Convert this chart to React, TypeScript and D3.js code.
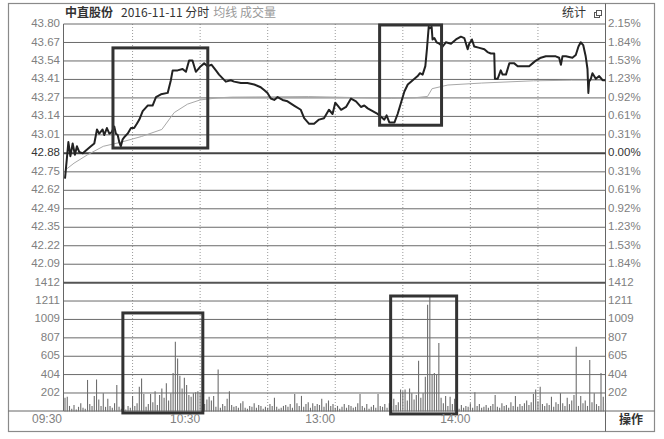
import React from 'react';
import * as d3 from 'd3';

// ---------- data ----------
const prevClose = 42.88;
const priceTop = 43.8;

const priceMinutes = [
  0, 1.5, 2.4, 3.4, 4.4, 5.3, 6.3, 7.9, 9.3, 11.5, 13, 14.2, 15.2, 16.7, 17.4, 18.6, 19.7, 20.7, 21.9, 22.6,
  23.4, 24.1, 24.8, 25.6, 26.6, 27.8, 29.3, 30.7, 31.9, 33, 34.5, 36.7, 38.9, 40.4, 42.6, 45.6, 47, 47.8, 50, 52.2,
  53.7, 55.1, 56.6, 58.1, 60.3, 61.8, 63.3, 65.1, 67, 68.4, 71.4, 73.6, 75.1, 78.1, 81, 84, 86.9, 88.4, 89.9, 91.4,
  92.9, 94.4, 96.6, 98.8, 101.7, 104.7, 106.2, 108.4, 110.6, 112.8, 115, 117.2, 118.8, 120, 121.1, 122.6, 124.8, 127, 129.2, 131.4,
  132.9, 134.4, 136.6, 138.8, 140.3, 141.8, 142.8, 144, 146.3, 147.7, 149.2, 150.7, 152.2, 154.4, 156.6, 157.6, 158.8, 160, 160.7, 161.5,
  162, 162.8, 163.2, 164, 165, 166.2, 167.7, 169.1, 171.4, 173.6, 175.8, 177.3, 178.8, 179.5, 180.7, 181.7, 184, 186.2, 187.6, 189.1,
  190.6, 190.9, 192.1, 193.5, 194.3, 195.8, 197.3, 199.5, 201, 202.4, 206.1, 207.6, 209.1, 211.3, 213.5, 215.7, 217.9, 219.4, 220.2, 220.9,
  222.4, 225.3, 226.8, 228, 229, 230.1, 231.2, 232, 232.4, 232.7, 233.5, 234.2, 235.7, 237.2, 238.7, 240,
];
const priceValues = [
  42.70, 42.96, 42.86, 42.95, 42.87, 42.93, 42.89, 42.88, 42.90, 42.93, 42.95, 43.05, 43.02, 43.05, 43.01, 43.06, 43.02, 43.03, 43.07, 43.02,
  43.01, 42.96, 42.93, 42.98, 43.00, 43.02, 43.06, 43.06, 43.09, 43.12, 43.18, 43.22, 43.22, 43.28, 43.30, 43.31, 43.40, 43.47, 43.47, 43.48,
  43.46, 43.54, 43.54, 43.46, 43.50, 43.52, 43.50, 43.51, 43.47, 43.44, 43.39, 43.40, 43.39, 43.38, 43.38, 43.37, 43.35, 43.33, 43.31, 43.27,
  43.26, 43.28, 43.26, 43.25, 43.22, 43.19, 43.13, 43.09, 43.09, 43.12, 43.13, 43.19, 43.16, 43.24, 43.22, 43.19, 43.21, 43.27, 43.25, 43.21,
  43.22, 43.20, 43.18, 43.16, 43.14, 43.12, 43.15, 43.10, 43.10, 43.16, 43.24, 43.32, 43.37, 43.40, 43.43, 43.45, 43.44, 43.50, 43.62, 43.78,
  43.77, 43.78, 43.69, 43.70, 43.67, 43.66, 43.64, 43.67, 43.66, 43.69, 43.71, 43.70, 43.62, 43.66, 43.69, 43.64, 43.63, 43.62, 43.60, 43.59,
  43.59, 43.41, 43.41, 43.47, 43.44, 43.44, 43.52, 43.52, 43.50, 43.50, 43.50, 43.52, 43.54, 43.56, 43.57, 43.57, 43.57, 43.56, 43.51, 43.57,
  43.57, 43.56, 43.58, 43.64, 43.67, 43.65, 43.57, 43.48, 43.31, 43.39, 43.41, 43.45, 43.41, 43.43, 43.40, 43.40,
];

const avgMinutes = [0, 4, 10, 17, 25, 34, 43, 48.5, 54.4, 60, 68, 74, 108, 120, 145, 155, 161, 163, 170, 185, 208, 225, 240];
const avgValues = [42.76, 42.81, 42.87, 42.93, 42.96, 43.0, 43.05, 43.17, 43.23, 43.26, 43.275, 43.28, 43.284, 43.28, 43.27, 43.275, 43.285, 43.34, 43.366, 43.38, 43.396, 43.4, 43.4];

const volumes = [
  150, 160, 60, 30, 70, 20, 50, 90, 40, 30,
  345, 80, 60, 170, 350, 130, 60, 200, 50, 140,
  60, 40, 90, 290, 50, 30, 70, 20, 60, 40,
  170, 60, 90, 270, 360, 190, 50, 80, 190, 100,
  220, 70, 180, 250, 150, 310, 120, 200, 420, 765,
  580, 390, 250, 370, 290, 180, 160, 200, 210, 220,
  210, 60, 80, 130, 160, 120, 170, 50, 460, 40,
  80, 60, 140, 220, 70, 50, 60, 40, 90, 110,
  40, 30, 60, 50, 90, 40, 70, 60, 30, 50,
  40, 80, 60, 150, 50, 30, 40, 60, 70, 50,
  80, 40, 190, 90, 60, 170, 50, 80, 100, 40,
  90, 60, 80, 70, 140, 50, 90, 120, 60, 80,
  40, 60, 30, 50, 80, 40, 70, 60, 40, 50,
  90, 190, 60, 40, 80, 30, 50, 70, 40, 190,
  60, 50, 80, 40, 90, 60, 140, 70, 100, 240,
  220, 240, 120, 250, 200, 130, 180, 555, 150, 200,
  380, 1170, 1260, 400, 420, 400, 750, 150, 90, 170,
  60, 160, 80, 140, 50, 30, 70, 40, 60, 50,
  90, 40, 210, 60, 80, 40, 50, 70, 40, 60,
  80, 180, 50, 40, 90, 60, 70, 40, 100, 60,
  170, 50, 80, 60, 90, 120, 70, 100, 190, 240,
  110, 270, 80, 60, 90, 70, 160, 50, 100, 80,
  200, 90, 60, 150, 80, 120, 180, 710, 60, 170,
  90, 120, 60, 565, 100, 200, 80, 60, 420, 160,
  90,
];

const priceTickLabels = ['43.80', '43.67', '43.54', '43.41', '43.27', '43.14', '43.01', '42.88', '42.75', '42.62', '42.49', '42.35', '42.22', '42.09'];
const pctTickLabels = ['2.15%', '1.84%', '1.53%', '1.23%', '0.92%', '0.61%', '0.31%', '0.00%', '0.31%', '0.61%', '0.92%', '1.23%', '1.53%', '1.84%'];
const volTicks = [1412, 1211, 1009, 807, 605, 404, 202];
const timeTickMinutes = [0, 60, 120, 180];
const timeTickLabels = ['09:30', '10:30', '13:00', '14:00'];
const gridMinutes = [30, 60, 90, 120, 150, 180, 210];

// annotation boxes in data units
const priceBoxMinutes = [[21.3, 63.4], [139.7, 167.2]];
const priceBoxValues = [[43.63, 42.918], [43.793, 43.08]];
const volBoxMinutes = [[25.7, 61.2], [144.6, 173.9]];
const volBoxValues = [[1080, -17], [1266, -28]];

// ---------- layout ----------
const W = 664, H = 439;
const plotL = 63.5, plotR = 605.5;
const x = d3.scaleLinear().domain([0, 240]).range([65, 605.5]);
const priceStep = (priceTop - prevClose) / 7;
const yP = d3.scaleLinear().domain([prevClose - 7 * priceStep, priceTop]).range([282.7, 24]);
const yV = d3.scaleLinear().domain([0, 1412]).range([411.4, 282.7]);

const NUM_FONT = '"Liberation Sans", Arial, sans-serif';
const CJK_FONT = '"Noto Sans CJK SC", "Liberation Sans", sans-serif';

export default function App() {
  const priceLine = d3.line<number>().x((_, i) => x(priceMinutes[i])).y((d) => yP(d));
  const avgLine = d3.line<number>().x((_, i) => x(avgMinutes[i])).y((d) => yP(d));
  const gridVals = priceTickLabels.map((_, i) => priceTop - i * priceStep);

  return (
    <svg width={W} height={H} style={{ position: 'absolute', left: 0, top: 0, background: '#fff' }}>
      <rect x={0} y={0} width={W} height={H} fill="#fff" />
      {/* outer frame */}
      <rect x={8.5} y={3.5} width={646} height={428} fill="none" stroke="#8a8a8a" strokeWidth={1.2} />
      <line x1={plotR} x2={plotR} y1={3.5} y2={431.5} stroke="#666" strokeWidth={1} />
      <line x1={plotL} x2={plotL} y1={24} y2={411} stroke="#666" strokeWidth={1} />
      <line x1={8.5} x2={654.5} y1={411} y2={411} stroke="#666" strokeWidth={1} />

      {/* vertical dotted grid */}
      {gridMinutes.map((m) => (
        <line key={'vg' + m} x1={x(m)} x2={x(m)} y1={24} y2={411} stroke="#9a9a9a" strokeWidth={1} strokeDasharray="1,2" />
      ))}

      {/* price horizontal grid + labels */}
      {gridVals.map((v, i) => {
        const isBase = i === 7;
        return (
          <g key={'pg' + i}>
            <line x1={plotL} x2={plotR} y1={yP(v)} y2={yP(v)} stroke={isBase ? '#444' : '#6a6a6a'} strokeWidth={isBase ? 2 : 1} />
            <text x={60} y={yP(v)} textAnchor="end" dominantBaseline="middle" fontFamily={NUM_FONT} fontSize={11.5} fill={isBase ? '#333' : '#808080'}>
              {priceTickLabels[i]}
            </text>
            <text x={608} y={yP(v)} textAnchor="start" dominantBaseline="middle" fontFamily={NUM_FONT} fontSize={11.5} fill={isBase ? '#333' : '#808080'}>
              {pctTickLabels[i]}
            </text>
          </g>
        );
      })}

      {/* volume grid + labels */}
      {volTicks.map((v, i) => (
        <g key={'vt' + v}>
          <line x1={plotL} x2={plotR} y1={yV(v)} y2={yV(v)} stroke={i === 0 ? '#555' : '#6a6a6a'} strokeWidth={i === 0 ? 2 : 1} />
          <text x={60} y={yV(v)} textAnchor="end" dominantBaseline="middle" fontFamily={NUM_FONT} fontSize={11.5} fill="#808080">{v}</text>
          <text x={608} y={yV(v)} textAnchor="start" dominantBaseline="middle" fontFamily={NUM_FONT} fontSize={11.5} fill="#808080">{v}</text>
        </g>
      ))}

      {/* volume bars */}
      {volumes.map((v, i) => (
        <line key={'vb' + i} x1={x(i)} x2={x(i)} y1={yV(0)} y2={yV(v)} stroke="#6e6e6e" strokeWidth={1.1} />
      ))}

      {/* average & price lines */}
      <path d={avgLine(avgValues) || ''} fill="none" stroke="#a8a8a8" strokeWidth={1} />
      <path d={priceLine(priceValues) || ''} fill="none" stroke="#222" strokeWidth={2} strokeLinejoin="round" />

      {/* annotation boxes */}
      {priceBoxMinutes.map((mm, i) => (
        <rect key={'pb' + i} x={x(mm[0])} y={yP(priceBoxValues[i][0])} width={x(mm[1]) - x(mm[0])}
          height={yP(priceBoxValues[i][1]) - yP(priceBoxValues[i][0])} fill="none" stroke="#333" strokeWidth={3} />
      ))}
      {volBoxMinutes.map((mm, i) => (
        <rect key={'vbx' + i} x={x(mm[0])} y={yV(volBoxValues[i][0])} width={x(mm[1]) - x(mm[0])}
          height={yV(volBoxValues[i][1]) - yV(volBoxValues[i][0])} fill="none" stroke="#333" strokeWidth={3} />
      ))}

      {/* time labels */}
      {timeTickMinutes.map((m, i) => (
        <text key={'tl' + m} x={i === 0 ? x(m) - 3 : x(m)} y={420} textAnchor="end" dominantBaseline="middle" fontFamily={NUM_FONT} fontSize={12} fill="#808080">
          {timeTickLabels[i]}
        </text>
      ))}
      <text x={631} y={421} textAnchor="middle" dominantBaseline="middle" fontFamily={CJK_FONT} fontSize={12} fontWeight="bold" fill="#333">操作</text>

      {/* title */}
      <text x={65} y={14} dominantBaseline="middle" fontFamily={CJK_FONT} fontSize={12} fill="#333">
        <tspan fontWeight="bold">中直股份</tspan>
        <tspan dx={8}>2016-11-11 分时</tspan>
        <tspan dx={4} fill="#9a9a9a">均线 成交量</tspan>
      </text>
      <text x={562} y={14} dominantBaseline="middle" fontFamily={CJK_FONT} fontSize={12} fill="#333">统计</text>
      <rect x={594.5} y={12.5} width={5} height={5} fill="none" stroke="#555" strokeWidth={1} />
      <rect x={596.5} y={10.5} width={5} height={5} fill="#fff" stroke="#555" strokeWidth={1} />
    </svg>
  );
}
